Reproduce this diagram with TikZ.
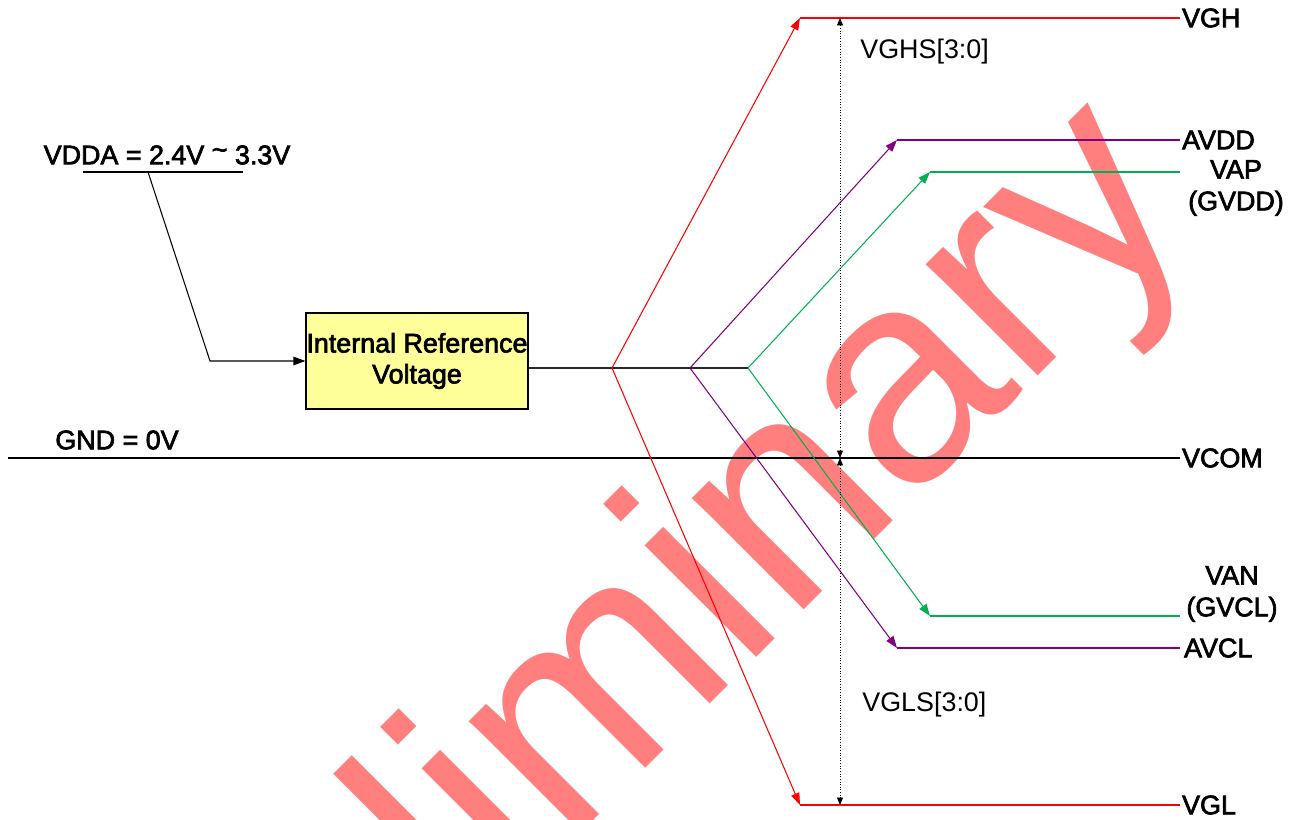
\documentclass[tikz,border=0pt]{standalone}
\usepackage{fontspec}
\setmainfont{Liberation Sans}
\newfontfamily\lblfont[FakeBold=2.5]{Liberation Sans}
\usetikzlibrary{positioning, arrows.meta, calc}
\definecolor{cRail}{HTML}{FF0000}
\definecolor{cAna}{HTML}{800080}
\definecolor{cSrc}{HTML}{00B050}
\definecolor{cBox}{HTML}{FFFF99}
\definecolor{cMark}{HTML}{FF7F7F}

\begin{document}
\begin{tikzpicture}[
  x=0.02cm, y=-0.02cm,
  lbl/.style={font=\lblfont\fontsize{15.3}{18}\selectfont, inner sep=1pt},
  dimlbl/.style={font=\fontsize{15.3}{18}\selectfont, inner sep=0pt, anchor=west},
  rail/.style={draw=#1, line width=1.1pt},
  slope/.style={draw=#1, line width=0.6pt,
    -{Triangle[length=0.24cm, width=0.17cm]}},
  dimline/.style={densely dotted, line width=0.5pt,
    {Triangle[length=0.15cm, width=0.12cm]}-{Triangle[length=0.15cm, width=0.12cm]}},
  refbox/.style={draw, fill=cBox, line width=0.7pt, inner sep=0pt,
    minimum width=4.44cm, minimum height=1.92cm, align=center,
    font=\lblfont\fontsize{15.3}{17.6}\selectfont},
  wmark/.style={text=cMark, font=\fontsize{170}{170}\selectfont, inner sep=0pt},
]
\useasboundingbox[fill=white] (0,0) rectangle (1301,820);

% watermark
\node[wmark, rotate=45, anchor=base] (wm) at (672,742) {Preliminary};

% VDDA input
\node[lbl] (vdda) at (167,155) {VDDA = 2.4V \raisebox{0.2em}{\textasciitilde} 3.3V};
\coordinate (vddaL) at (83,172);
\coordinate (vddaR) at (243,172);
\coordinate (vddaT) at (148,172);
\coordinate (vddaK) at (210,361);
\draw[line width=0.6pt] (vddaL) -- (vddaR);

% reference block
\node[refbox] (iref) at (417,361) {Internal Reference\\Voltage};
\draw[line width=0.6pt, -{Triangle[length=0.24cm, width=0.17cm]}]
  (vddaT) -- (vddaK) -- (iref.west);

% split points
\coordinate (sp1) at (612,368);
\coordinate (sp2) at (690,368);
\coordinate (sp3) at (748,368);
\draw[line width=0.9pt, black!85] (iref.east |- sp1) -- (sp3);

% GND / VCOM
\coordinate (gndL) at (8,458);
\node[lbl, anchor=west] (vcom) at (1180,458) {VCOM};
\node[lbl] (gnd) at (117,440) {GND = 0V};
\draw[line width=0.7pt] (gndL) -- (vcom.west);

% VGH / VGL
\coordinate (vghK) at (800,18);
\coordinate (vglK) at (800,805);
\node[lbl, anchor=west] (vgh) at (1180,18) {VGH};
\node[lbl, anchor=west] (vgl) at (1180,805) {VGL};
\draw[slope=cRail] (sp1) -- (vghK);
\draw[slope=cRail] (sp1) -- (vglK);
\draw[rail=cRail] (vghK) -- (vgh.west);
\draw[rail=cRail] (vglK) -- (vgl.west);

% AVDD / AVCL
\coordinate (avddK) at (897,140);
\coordinate (avclK) at (897,648);
\node[lbl, anchor=west] (avdd) at (1180,140) {AVDD};
\node[lbl, anchor=west] (avcl) at (1182,648) {AVCL};
\draw[slope=cAna] (sp2) -- (avddK);
\draw[slope=cAna] (sp2) -- (avclK);
\draw[rail=cAna] (avddK) -- (avdd.west -| vgh.west);
\draw[rail=cAna] (avclK) -- (avcl.west -| vgh.west);

% VAP / VAN
\coordinate (vapK) at (930,172);
\coordinate (vanK) at (930,616);
\coordinate (vapE) at (1180,172);
\coordinate (vanE) at (1180,616);
\node[lbl, align=center] (vap) at (1236,188) {VAP\\(GVDD)};
\node[lbl, align=center] (van) at (1232,594) {VAN\\(GVCL)};
\draw[slope=cSrc] (sp3) -- (vapK);
\draw[slope=cSrc] (sp3) -- (vanK);
\draw[rail=cSrc] (vapK) -- (vapE);
\draw[rail=cSrc] (vanK) -- (vanE);

% level ranges
\coordinate (dTop) at (840,18);
\coordinate (dMid) at (840,458);
\coordinate (dBot) at (840,805);
\draw[dimline] (dTop) -- (dMid);
\draw[dimline] (dMid) -- (dBot);
\node[dimlbl] (vghs) at (860,52) {VGHS[3:0]};
\node[dimlbl] (vgls) at (862,705) {VGLS[3:0]};

\end{tikzpicture}
\end{document}
